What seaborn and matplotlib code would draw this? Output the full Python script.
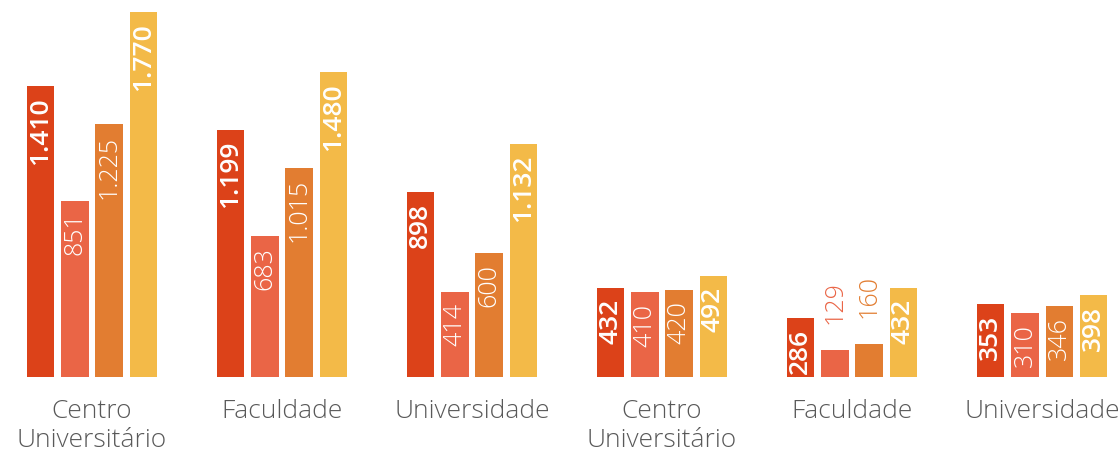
import seaborn as sns
import matplotlib.pyplot as plt
import pandas as pd

# dados
grupos = ["Centro\nUniversitário", "Faculdade", "Universidade",
          "Centro\nUniversitário", "Faculdade", "Universidade"]
series = ["Série 1", "Série 2", "Série 3", "Série 4"]
serie1 = [1410, 1199, 898, 432, 286, 353]
serie2 = [851, 683, 414, 410, 129, 310]
serie3 = [1225, 1015, 600, 420, 160, 346]
serie4 = [1770, 1480, 1132, 492, 432, 398]
cores = ["#DC4219", "#EA6546", "#E27D31", "#F3BA48"]
negrito = [True, False, False, True]

valores = [serie1, serie2, serie3, serie4]
linhas = []
for s, vals in zip(series, valores):
    for i, v in enumerate(vals):
        linhas.append({"grupo": i, "serie": s, "valor": v})
df = pd.DataFrame(linhas)

sns.set_style("white")
plt.rcParams['font.family'] = ['Open Sans', 'DejaVu Sans']

fig = plt.figure(figsize=(11.2, 4.58), dpi=100)
ax = fig.add_axes([0, 81/458, 1, 377/458])

sns.barplot(data=df, x="grupo", y="valor", hue="serie", hue_order=series,
            palette=cores, saturation=1, width=0.72, gap=0.2, legend=False,
            ax=ax, edgecolor="none", linewidth=0)

ax.set_xlim(-0.484, 5.41)
ax.set_ylim(0, 1828)

# rótulos nas barras
for k, cont in enumerate(ax.containers):
    for barra in cont:
        v = barra.get_height()
        txt = f"{int(round(v)):,}".replace(",", ".")
        x = barra.get_x() + barra.get_width() / 2
        peso = "semibold" if negrito[k] else "light"
        if v < 200:
            ax.annotate(txt, (x, v), xytext=(0, 19), textcoords="offset points",
                        rotation=90, ha="center", va="bottom", color=cores[k],
                        fontsize=18, fontweight=peso)
        else:
            ax.annotate(txt, (x, v), xytext=(0, -8), textcoords="offset points",
                        rotation=90, ha="center", va="top", color="white",
                        fontsize=19 if negrito[k] else 18, fontweight=peso)

ax.set_xticks(range(len(grupos)))
ax.set_xticklabels(grupos, fontsize=19, color="#595959", fontweight="light",
                   linespacing=1.2)
ax.tick_params(axis="x", length=0, pad=16)
ax.set_yticks([])
ax.set_xlabel("")
ax.set_ylabel("")
sns.despine(ax=ax, left=True, bottom=True)

fig.savefig("out.png", dpi=100)
